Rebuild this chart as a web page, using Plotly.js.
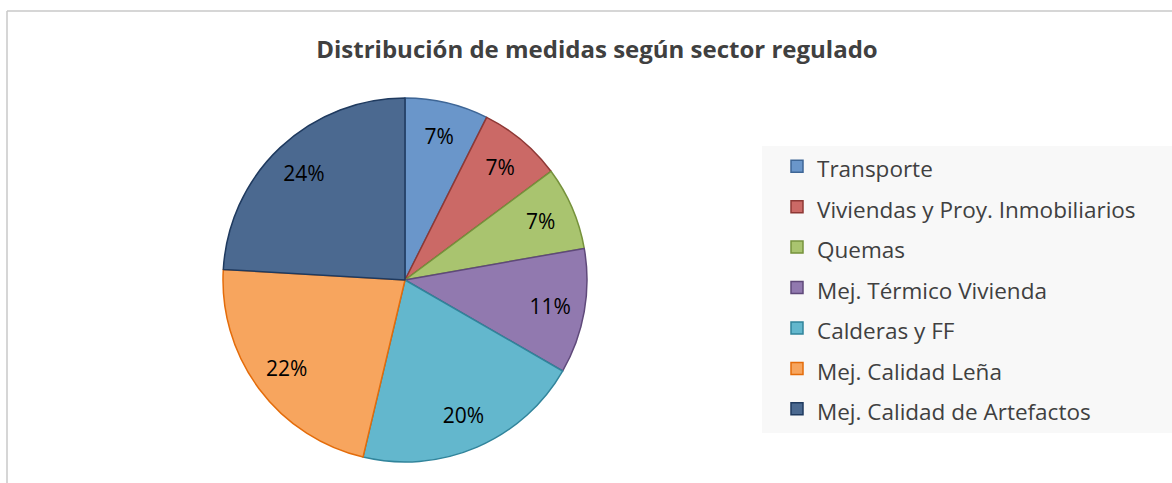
<!DOCTYPE html>
<html>
<head>
<meta charset="utf-8">
<script src="https://cdn.plot.ly/plotly-3.0.1.min.js"></script>
<style>html,body{margin:0;padding:0;background:#fff;}#chart{width:1172px;height:483px;}</style>
</head>
<body>
<div id="chart"></div>
<script>
var categories = ["Transporte", "Viviendas y Proy. Inmobiliarios", "Quemas", "Mej. Térmico Vivienda", "Calderas y FF", "Mej. Calidad Leña", "Mej. Calidad de Artefactos"];
var values = [4, 4, 4, 6, 11, 12, 13];
var fillColors = ["#6A96CA", "#CB6966", "#A9C46F", "#9179AF", "#63B7CD", "#F7A55E", "#4B6990"];
var lineColors = ["#3E6696", "#8E3835", "#76923C", "#5F497A", "#31849B", "#E46C0A", "#1F3A5F"];
var titleText = "Distribución de medidas según sector regulado";

var W = 1172, H = 483;
var cx = 405, cy = 280, r = 182;
var dom = {x: [(cx - r) / W, (cx + r) / W], y: [(H - cy - r) / H, (H - cy + r) / H]};

var pieMain = {
  type: "pie",
  labels: categories.map(function(c){ return '<span style="font-size:22.5px">' + c + '</span>'; }),
  values: values,
  sort: false,
  direction: "clockwise",
  rotation: 0,
  marker: {colors: fillColors, line: {color: lineColors, width: 1.5}},
  textinfo: "none",
  hoverinfo: "label+percent",
  domain: dom
};

// transparent ring used only to place the percentage labels toward the outer edge
var pieLabels = {
  type: "pie",
  labels: categories,
  values: values,
  sort: false,
  direction: "clockwise",
  rotation: 0,
  hole: 0.62,
  showlegend: false,
  marker: {colors: categories.map(function(){ return "rgba(0,0,0,0)"; }), line: {width: 0}},
  texttemplate: "%{percent:.0%}",
  textposition: "inside",
  insidetextorientation: "horizontal",
  textfont: {family: "Open Sans, sans-serif", size: 21, color: "#000000"},
  hoverinfo: "skip",
  domain: dom
};

var layout = {
  width: W, height: H,
  margin: {l: 0, r: 0, t: 0, b: 0},
  paper_bgcolor: "#ffffff",
  font: {family: "Open Sans, sans-serif", color: "#404040"},
  title: {
    text: "<b>" + titleText + "</b>",
    font: {family: "Open Sans, sans-serif", size: 24, color: "#404040"},
    x: 597 / W, xanchor: "center", xref: "paper",
    y: 1 - 50 / H, yanchor: "middle", yref: "container"
  },
  showlegend: true,
  legend: {
    x: 777 / W, xanchor: "left",
    y: 1 - 141 / H, yanchor: "top",
    bgcolor: "rgba(0,0,0,0)",
    font: {family: "Open Sans, sans-serif", size: 28.8, color: "#404040"},
    traceorder: "normal"
  },
  shapes: [
    {type: "rect", xref: "paper", yref: "paper", x0: 762 / W, x1: 1, y0: 1 - 433 / H, y1: 1 - 146 / H, fillcolor: "#F8F8F8", line: {width: 0}, layer: "below"},
    {type: "line", xref: "paper", yref: "paper", x0: 7 / W, x1: 1, y0: 1 - 11 / H, y1: 1 - 11 / H, line: {color: "#C8C8C8", width: 1.5}},
    {type: "line", xref: "paper", yref: "paper", x0: 7 / W, x1: 7 / W, y0: 0, y1: 1 - 11 / H, line: {color: "#C8C8C8", width: 1.5}}
  ]
};

Plotly.newPlot("chart", [pieMain, pieLabels], layout, {displayModeBar: false, staticPlot: true});
</script>
</body>
</html>
